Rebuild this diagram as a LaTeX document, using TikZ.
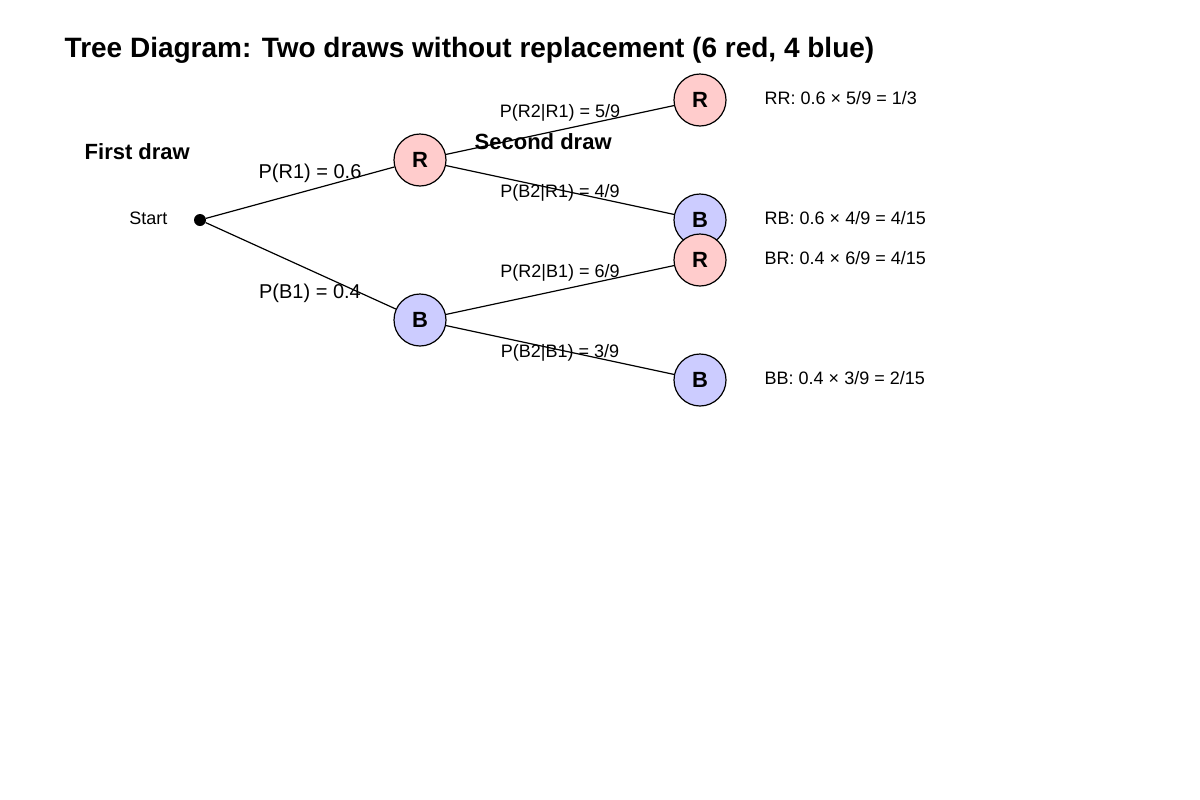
\documentclass[tikz,border=0pt]{standalone}
\usepackage{fontspec}
\setmainfont{Liberation Sans}
\begin{document}
\begin{tikzpicture}[x=0.75pt,y=-0.75pt,
  st/.style={circle,draw,line width=0.9pt,minimum size=39pt,inner sep=0pt,font=\fontsize{16.5}{18}\selectfont\bfseries},
  rn/.style={st,fill=red!20},
  bn/.style={st,fill=blue!20},
  lab/.style={font=\fontsize{15}{17}\selectfont},
  cl/.style={font=\fontsize{13.5}{15}\selectfont},
  hd/.style={font=\fontsize{16.5}{18}\selectfont\bfseries},
  ed/.style={line width=0.9pt}]
\useasboundingbox (0,0) rectangle (1200,800);
\node[anchor=west,font=\fontsize{21}{24}\selectfont\bfseries] (title) at (60,50) {Tree Diagram: Two draws without replacement (6 red, 4 blue)};
\node[hd,anchor=west] (fd) at (80,152) {First draw};
\node[hd,anchor=west] (sd) at (470,142) {Second draw};
\node[circle,fill,inner sep=0pt,minimum size=9pt] (s) at (200,220) {};
\node[cl,anchor=east] (stl) at (172,218) {Start};
\node[rn] (r1) at (420,160) {R};
\node[bn] (b1) at (420,320) {B};
\node[rn] (rr) at (700,100) {R};
\node[bn] (rb) at (700,220) {B};
\node[rn] (br) at (700,260) {R};
\node[bn] (bb) at (700,380) {B};
\draw[ed] (s) -- (r1); \draw[ed] (s) -- (b1);
\draw[ed] (r1) -- (rr); \draw[ed] (r1) -- (rb);
\draw[ed] (b1) -- (br); \draw[ed] (b1) -- (bb);
\node[lab] (l1) at (310,173) {P(R1) = 0.6};
\node[lab] (l2) at (310,293) {P(B1) = 0.4};
\node[cl] (l3) at (560,113) {P(R2|R1) = 5/9};
\node[cl] (l4) at (560,193) {P(B2|R1) = 4/9};
\node[cl] (l5) at (560,273) {P(R2|B1) = 6/9};
\node[cl] (l6) at (560,353) {P(B2|B1) = 3/9};
\node[cl,anchor=west] (o1) at (760,98) {RR: 0.6 × 5/9 = 1/3};
\node[cl,anchor=west] (o2) at (760,218) {RB: 0.6 × 4/9 = 4/15};
\node[cl,anchor=west] (o3) at (760,258) {BR: 0.4 × 6/9 = 4/15};
\node[cl,anchor=west] (o4) at (760,378) {BB: 0.4 × 3/9 = 2/15};
\end{tikzpicture}
\end{document}
